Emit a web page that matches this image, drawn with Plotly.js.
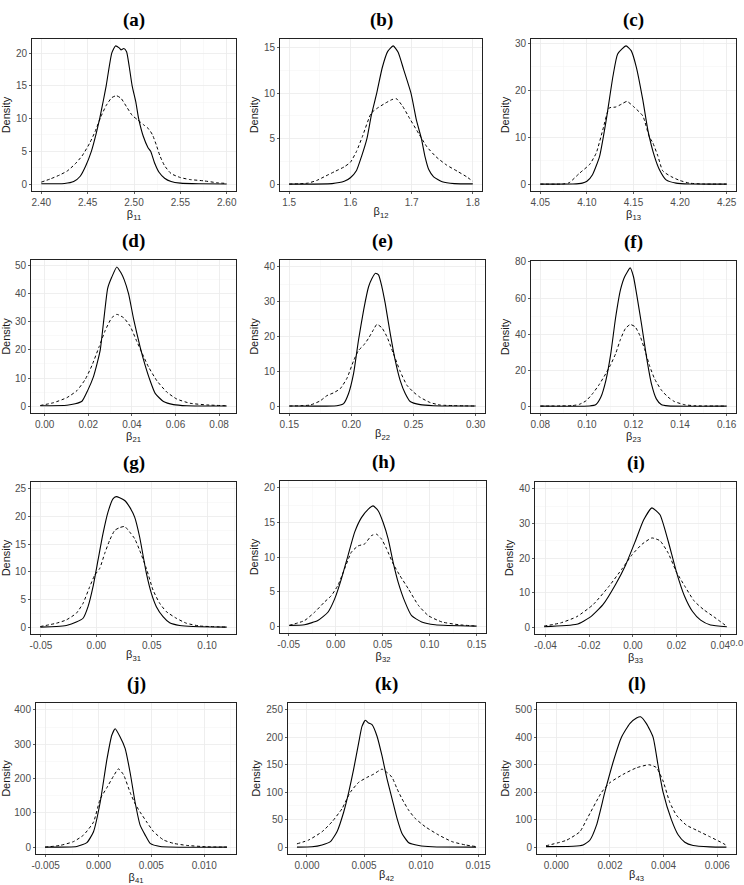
<!DOCTYPE html>
<html><head><meta charset="utf-8">
<script src="https://cdn.plot.ly/plotly-3.0.1.min.js"></script>
<style>body{margin:0;background:#fff}#chart{width:744px;height:885px}</style>
</head><body><div id="chart"></div>
<script>
// ---------- DATA ----------
const panelLetters = ["(a)","(b)","(c)","(d)","(e)","(f)","(g)","(h)","(i)","(j)","(k)","(l)"];
const paramSubs = ["11","12","13","21","22","23","31","32","33","41","42","43"];

const aSolidX = [2.400,2.425,2.435,2.442,2.448,2.454,2.459,2.463,2.467,2.470,2.476,2.480,2.484,2.486,2.489,2.492,2.495,2.498,2.502,2.505,2.510,2.515,2.518,2.522,2.527,2.533,2.540,2.550,2.570,2.600];
const aSolidY = [0.05,0.1,0.4,1.2,2.8,5.0,7.6,10.0,12.8,15.0,20.0,21.1,20.8,20.5,20.7,20.2,17.8,15.0,12.5,10.0,7.3,5.6,5.0,3.3,1.8,0.9,0.4,0.15,0.05,0.02];
const aDashX = [2.400,2.410,2.420,2.428,2.436,2.444,2.452,2.458,2.464,2.470,2.476,2.481,2.486,2.492,2.498,2.504,2.510,2.516,2.520,2.524,2.528,2.533,2.540,2.550,2.560,2.575,2.590,2.600];
const aDashY = [0.3,0.8,1.4,2.0,3.0,4.3,6.2,8.0,10.2,12.0,13.2,13.5,13.1,11.8,10.5,9.8,9.1,8.4,7.5,6.0,4.3,2.8,1.6,1.0,0.7,0.5,0.2,0.1];

const bSolidX = [1.500,1.570,1.590,1.600,1.610,1.618,1.627,1.634,1.643,1.652,1.661,1.670,1.678,1.687,1.699,1.708,1.716,1.722,1.728,1.736,1.750,1.770,1.800];
const bSolidY = [0,0.05,0.3,0.7,1.5,3.0,5.0,7.5,10.0,12.8,14.6,15.2,14.5,12.6,10.0,7.0,5.0,3.0,1.6,0.8,0.25,0.05,0.02];
const bDashX = [1.500,1.530,1.545,1.560,1.575,1.590,1.600,1.610,1.620,1.634,1.645,1.657,1.668,1.675,1.685,1.697,1.713,1.725,1.740,1.757,1.775,1.790,1.800];
const bDashY = [0.0,0.1,0.4,0.9,1.4,1.9,2.4,3.6,5.3,7.8,8.4,8.9,9.3,9.4,8.6,7.2,5.4,4.1,3.0,2.1,1.4,0.8,0.3];

const cSolidX = [4.050,4.085,4.095,4.100,4.106,4.1136,4.1207,4.128,4.133,4.142,4.1475,4.153,4.160,4.1654,4.1725,4.178,4.185,4.1957,4.210,4.250];
const cSolidY = [0,0.02,0.2,0.6,2.0,5.9,13.6,23.0,27.7,29.4,28.4,24.9,17.9,11.5,5.9,3.0,0.9,0.2,0.02,0];
const cDashX = [4.050,4.074,4.081,4.092,4.103,4.110,4.117,4.124,4.131,4.137,4.143,4.150,4.160,4.167,4.1707,4.1761,4.1814,4.1904,4.1993,4.210,4.225,4.250];
const cDashY = [0,0.02,0.3,2.3,4.2,6.6,11.5,16.2,16.4,17.0,17.6,16.5,14.5,10.0,8.8,6.0,2.8,1.6,0.8,0.2,0.02,0];

const dSolidX = [-0.002,0.0102,0.014,0.0171,0.0197,0.0224,0.024,0.0255,0.0273,0.0289,0.0308,0.0331,0.035,0.0365,0.0385,0.0408,0.0438,0.0461,0.0484,0.0507,0.0545,0.0591,0.0652,0.0835];
const dSolidY = [0.1,0.3,0.8,1.7,5.5,10.5,15,20,32,42,46,49.6,47.5,45,40,31,21,14.5,9,4.5,1.6,0.5,0.1,0];
const dDashX = [-0.002,0.0041,0.0102,0.0148,0.0186,0.0217,0.0249,0.0278,0.0308,0.0331,0.0362,0.0392,0.0423,0.0446,0.0476,0.0515,0.056,0.0606,0.0667,0.0744,0.0835];
const dDashY = [0.2,1.2,3.0,5.5,9.5,14.5,21,27,31.5,32.7,31.5,28.5,23,19,14,9,5,2.5,1.0,0.4,0.1];

const eSolidX = [0.15,0.1883,0.1937,0.1977,0.2017,0.2057,0.2098,0.2138,0.2165,0.2194,0.2218,0.2245,0.2272,0.2312,0.2352,0.2392,0.2433,0.2473,0.2553,0.266,0.30];
const eSolidY = [0,0.1,0.7,3.6,9.3,19,27.6,34.3,36.7,38.2,37.7,34.3,29.5,20.9,13.2,7.4,3.6,1.3,0.4,0.1,0];
const eDashX = [0.15,0.1669,0.1749,0.1803,0.1856,0.191,0.1964,0.2017,0.2057,0.2098,0.2138,0.2178,0.2205,0.2245,0.2285,0.2339,0.2392,0.2446,0.25,0.2553,0.2634,0.2714,0.30];
const eDashY = [0,0.3,1.5,3,3.8,5,8,13,16,17.5,19.5,22,23.5,22.5,20,15,10,6,4,2.5,1,0.3,0];

const fSolidX = [0.08,0.1011,0.1039,0.106,0.1081,0.1102,0.1123,0.1144,0.1162,0.1186,0.12,0.1214,0.1235,0.1256,0.1277,0.1298,0.1319,0.1348,0.16];
const fSolidY = [0,0.05,0.9,5,14,28.7,48.9,64.5,71.8,76.7,71.8,61.7,45,27,12.3,4,0.9,0.1,0];
const fDashX = [0.08,0.094,0.0968,0.0997,0.1025,0.1053,0.1081,0.1102,0.1123,0.1144,0.1165,0.1186,0.1207,0.1228,0.1249,0.127,0.1291,0.1319,0.1348,0.1376,0.1418,0.146,0.16];
const fDashY = [0,0.3,1,3,7,12,18,23,29,37,43,45.3,44,39,31,22,15,9,5,2.5,0.8,0.2,0];

const gSolidX = [-0.0506,-0.0361,-0.0271,-0.0181,-0.012,-0.0075,-0.003,0.0015,0.006,0.0105,0.015,0.018,0.0211,0.0256,0.0301,0.0346,0.0391,0.0452,0.0497,0.0542,0.0602,0.0662,0.0753,0.0873,0.1177];
const gSolidY = [0,0.1,0.3,0.9,1.6,3.7,7.3,12.1,16.9,20.8,23.2,23.6,23.4,22.9,21.7,19.9,16.3,9.7,6.1,3.7,1.9,0.8,0.3,0.1,0];
const gDashX = [-0.0506,-0.0361,-0.0271,-0.0181,-0.012,-0.006,-0.0015,0.003,0.0075,0.012,0.0166,0.0211,0.0256,0.0301,0.0346,0.0391,0.0452,0.0512,0.0572,0.0632,0.0722,0.0813,0.0933,0.1177];
const gDashY = [0.1,0.7,1.3,2.5,4.3,7.3,9.4,10.6,13.3,15.7,17.5,18,18.2,17.2,16,13.9,10.6,6.7,4.3,2.8,1.6,0.7,0.2,0];

const hSolidX = [-0.0493,-0.0332,-0.019,-0.0083,-0.0012,0.006,0.0131,0.0202,0.0274,0.0345,0.0398,0.0452,0.0505,0.0559,0.0612,0.0666,0.0737,0.0808,0.0915,0.1058,0.15];
const hSolidY = [0.1,0.2,0.8,2,3.9,6.8,10.2,13.6,15.7,16.9,17.4,16.7,15,12.6,9.2,6.3,3.5,1.5,0.6,0.2,0];
const hDashX = [-0.0493,-0.0332,-0.0225,-0.0118,-0.0047,0.0024,0.0095,0.0167,0.0238,0.0309,0.0381,0.0434,0.0488,0.0541,0.0612,0.0684,0.0773,0.088,0.0987,0.113,0.1307,0.15];
const hDashY = [0.1,0.8,2,3.5,4.4,5.9,8.3,10.7,11.6,11.9,13.1,13.3,12.6,11.2,9,7.3,5.4,3,1.5,0.6,0.2,0];

const iSolidX = [-0.0406,-0.0257,-0.0197,-0.0137,-0.0078,-0.0033,0.0012,0.0049,0.0087,0.0124,0.0161,0.0199,0.0236,0.0273,0.031,0.0355,0.043];
const iSolidY = [0.1,0.8,2.8,6.5,12.5,18,25,31,34.5,32.5,25,16,9,4.5,2,0.6,0.1];
const iDashX = [-0.0406,-0.0331,-0.0257,-0.0182,-0.0107,-0.0048,-0.0003,0.0042,0.0087,0.0124,0.0161,0.0199,0.0236,0.0281,0.0325,0.037,0.043];
const iDashY = [0.3,1.2,3,6.5,12,17,21,24,25.8,25,21.5,16,12,7.5,5,3,0.2];

const jSolidX = [-0.00505,-0.00205,-0.0011,-0.00047,0.00016,0.00079,0.00126,0.00158,0.00205,0.00252,0.003,0.00347,0.00394,0.00442,0.00489,0.00584,0.01215];
const jSolidY = [0,2,13,45,130,254,326,345,321,288,216,130,64,35,11,2,0];
const jDashX = [-0.00505,-0.00363,-0.00237,-0.00142,-0.00047,0.00016,0.00079,0.00142,0.00189,0.00237,0.003,0.00347,0.00394,0.00457,0.00521,0.00615,0.0071,0.00836,0.01025,0.01215];
const jDashY = [0,5,16,35,73,140,173,207,228,211,159,126,102,73,45,21,11,5,1,0];

const kSolidX = [-0.00088,0.00044,0.00132,0.00205,0.00263,0.00322,0.00366,0.00409,0.00453,0.00482,0.00512,0.00541,0.0057,0.00614,0.00658,0.00702,0.00746,0.0079,0.00833,0.00892,0.0098,0.01097,0.01482];
const kSolidY = [0,0.6,4,10,28,64,100,142,190,220,231,226,223,202,166,124,88,52,25,8,3,0.6,0];
const kDashX = [-0.00088,0.00015,0.00132,0.00219,0.00307,0.0038,0.00453,0.00526,0.00585,0.00629,0.00658,0.00702,0.00746,0.0079,0.00833,0.00892,0.0095,0.01038,0.01155,0.01272,0.01389,0.01482];
const kDashY = [6,13,28,46,70,100,118,127,133,139,142,136,127,106,88,67,52,37,22,10,4,1];

const lSolidX = [-0.00038,0.00063,0.001,0.00125,0.0015,0.00181,0.00212,0.00243,0.00274,0.00299,0.00314,0.00336,0.00361,0.00379,0.00398,0.00429,0.00454,0.00479,0.0051,0.00572,0.00634];
const lSolidY = [2,3,8,25,80,200,310,400,450,470,475,450,400,300,200,100,45,18,6,1,0];
const lDashX = [-0.00038,0.00038,0.00088,0.00113,0.00169,0.002,0.00249,0.00299,0.00346,0.00373,0.00398,0.00423,0.00448,0.00485,0.00522,0.00572,0.00621,0.00636];
const lDashY = [5,25,56,100,200,235,265,289,300,290,241,163,116,80,62,38,14,5];

// x tick values & labels
const xTickVals = [
  [2.40,2.45,2.50,2.55,2.60],[1.5,1.6,1.7,1.8],[4.05,4.10,4.15,4.20,4.25],
  [0.00,0.02,0.04,0.06,0.08],[0.15,0.20,0.25,0.30],[0.08,0.10,0.12,0.14,0.16],
  [-0.05,0.00,0.05,0.10],[-0.05,0.00,0.05,0.10,0.15],[-0.04,-0.02,0.00,0.02,0.04],
  [-0.005,0.000,0.005,0.010],[0.000,0.005,0.010,0.015],[0.000,0.002,0.004,0.006]
];
const xTickText = [
  ["2.40","2.45","2.50","2.55","2.60"],["1.5","1.6","1.7","1.8"],["4.05","4.10","4.15","4.20","4.25"],
  ["0.00","0.02","0.04","0.06","0.08"],["0.15","0.20","0.25","0.30"],["0.08","0.10","0.12","0.14","0.16"],
  ["-0.05","0.00","0.05","0.10"],["-0.05","0.00","0.05","0.10","0.15"],["-0.04","-0.02","0.00","0.02","0.04"],
  ["-0.005","0.000","0.005","0.010"],["0.000","0.005","0.010","0.015"],["0.000","0.002","0.004","0.006"]
];
// visible part of the next tick label of (i), which the reference shows truncated at the figure edge
const iEdgeTickText = "0.0";
const yTickStep = [5,5,10,10,10,20,5,5,10,100,50,100];
const yUpperLimit = [0,0,0,0,40,0,25,20,40,400,250,500];

// ---------- LAYOUT ----------
const W = 744, H = 885;
// plot boxes in pixels: [left, right, top, bottom]
const boxes = [
  [32,236,39,191],[280,482,39,191],[531,736,39,191],
  [31,236,260,413],[280,485,260,413],[531,736,261,413],
  [31,236,482,634],[280,486,481,633],[535,736,482,634],
  [36,236,703,854],[288,485,703,854],[537,736,703,854]
];
const series = [
  [aSolidX,aSolidY,aDashX,aDashY],[bSolidX,bSolidY,bDashX,bDashY],[cSolidX,cSolidY,cDashX,cDashY],
  [dSolidX,dSolidY,dDashX,dDashY],[eSolidX,eSolidY,eDashX,eDashY],[fSolidX,fSolidY,fDashX,fDashY],
  [gSolidX,gSolidY,gDashX,gDashY],[hSolidX,hSolidY,hDashX,hDashY],[iSolidX,iSolidY,iDashX,iDashY],
  [jSolidX,jSolidY,jDashX,jDashY],[kSolidX,kSolidY,kDashX,kDashY],[lSolidX,lSolidY,lDashX,lDashY]
];

const tickFont = {family:"Liberation Sans, Arial, sans-serif", size:10, color:"#4d4d4d"};
const titleFont = {family:"Liberation Sans, Arial, sans-serif", size:11, color:"#1a1a1a"};
const traces = [];
const layout = {
  width:W, height:H, margin:{l:0,r:0,t:0,b:0},
  paper_bgcolor:"#ffffff", plot_bgcolor:"#ffffff",
  showlegend:false, annotations:[]
};

series.forEach((s, i) => {
  const n = i + 1;
  const xa = n === 1 ? "x" : "x" + n, ya = n === 1 ? "y" : "y" + n;
  const xk = n === 1 ? "xaxis" : "xaxis" + n, yk = n === 1 ? "yaxis" : "yaxis" + n;
  traces.push({x:s[0], y:s[1], xaxis:xa, yaxis:ya, type:"scatter", mode:"lines",
    line:{color:"#000", width:1.1, shape:"spline", smoothing:0.5}, hoverinfo:"skip"});
  traces.push({x:s[2], y:s[3], xaxis:xa, yaxis:ya, type:"scatter", mode:"lines",
    line:{color:"#000", width:1, dash:"3px,2.5px", shape:"spline", smoothing:0.5}, hoverinfo:"skip"});
  const allX = s[0].concat(s[2]);
  const xmin = Math.min(...allX), xmax = Math.max(...allX);
  const xpad = 0.05 * (xmax - xmin);
  const ymax = Math.max(Math.max(...s[1]), Math.max(...s[3]), yUpperLimit[i]);
  const b = boxes[i];
  const tv = xTickVals[i];
  const step = tv[1] - tv[0];
  layout[xk] = {
    domain:[b[0]/W, b[1]/W], anchor:ya, range:[xmin - xpad, xmax + xpad],
    tickmode:"array", tickvals:tv, ticktext:xTickText[i],
    showline:true, mirror:true, linecolor:"#222", linewidth:1,
    ticks:"outside", ticklen:2, tickcolor:"#333", tickwidth:0.8,
    showgrid:true, gridcolor:"#ebebeb", gridwidth:0.8, zeroline:false,
    minor:{tickmode:"linear", tick0:tv[0] - step/2, dtick:step/2, showgrid:true, gridcolor:"#f4f4f4", gridwidth:0.5, ticks:""},
    tickfont:tickFont,
    title:{text:"β<sub>" + paramSubs[i] + "</sub>", font:titleFont, standoff:0}
  };
  layout[yk] = {
    domain:[1 - b[3]/H, 1 - b[2]/H], anchor:xa, range:[-0.05*ymax, 1.05*ymax],
    tickmode:"linear", tick0:0, dtick:yTickStep[i],
    showline:true, mirror:true, linecolor:"#222", linewidth:1,
    ticks:"outside", ticklen:2, tickcolor:"#333", tickwidth:0.8,
    showgrid:true, gridcolor:"#ebebeb", gridwidth:0.8, zeroline:false,
    minor:{tickmode:"linear", tick0:yTickStep[i]/2, dtick:yTickStep[i]/2, showgrid:true, gridcolor:"#f4f4f4", gridwidth:0.5, ticks:""},
    tickfont:tickFont,
    title:{text:"Density", font:titleFont, standoff:3}
  };
  layout.annotations.push({
    text:"<b>" + panelLetters[i] + "</b>", xref:"paper", yref:"paper",
    x:(b[0] + b[1]) / 2 / W, y:1 - (b[2] - 19) / H, xanchor:"center", yanchor:"middle",
    showarrow:false, font:{family:"Liberation Serif, Times New Roman, serif", size:19, color:"#000"}
  });
});
// truncated tick label at the right edge of panel (i)
layout.annotations.push({
  text:iEdgeTickText, xref:"paper", yref:"paper", x:1, y:1 - 642/H,
  xanchor:"right", yanchor:"middle", showarrow:false, borderpad:0,
  font:{family:tickFont.family, size:9.5, color:tickFont.color}
});

Plotly.newPlot("chart", traces, layout, {staticPlot:true});
</script>
</body></html>
